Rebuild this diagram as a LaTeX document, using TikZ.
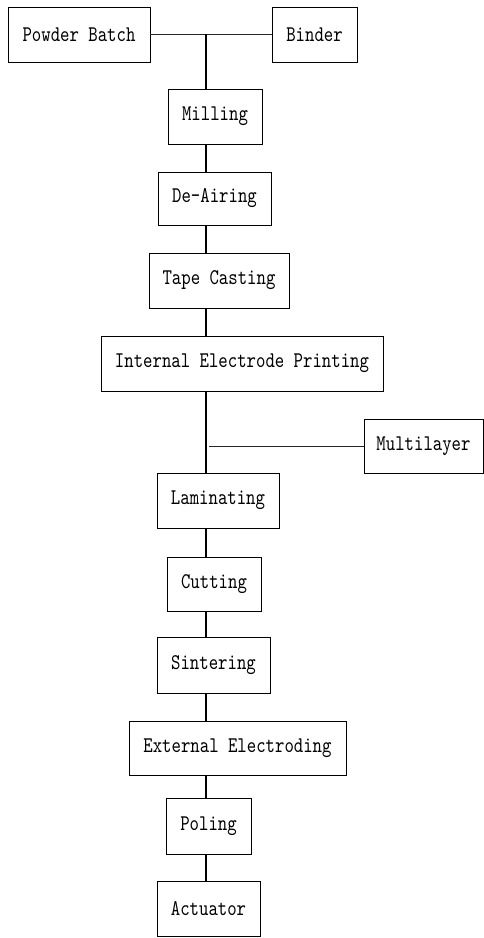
\documentclass[tikz,border=0pt]{standalone}
\usepackage{fontspec}
\newfontfamily\flowfont{lmmono10-regular.otf}[FakeStretch=0.8]
\usepackage{tikz}

\begin{document}
\begin{tikzpicture}[x=1pt, y=-1pt]
\tikzstyle{every node}=[font=\flowfont\fontsize{22.4}{26}\selectfont]
\tikzstyle{proc}=[draw, line width=0.8pt, inner sep=0pt, minimum height=55pt]
\tikzstyle{trunk}=[line width=1.3pt]
\tikzstyle{feed}=[line width=0.7pt, black!85]

\useasboundingbox (0,0) rectangle (484,938);

\node[proc, minimum width=142pt] at (79,34.5) (pb) {Powder Batch};
\node[proc, minimum width=85pt] at (314.5,34.5) (binder) {Binder};
\node[proc, minimum width=94pt] at (215,116.5) (mill) {Milling};
\node[proc, minimum width=113pt, minimum height=53pt] at (214.5,198.5) (deair) {De-Airing};
\node[proc, minimum width=140pt] at (219,280.5) (tape) {Tape Casting};
\node[proc, minimum width=282pt] at (242,363.5) (iep) {Internal Electrode Printing};
\node[proc, minimum width=119pt, minimum height=54pt] at (423.5,446) (multi) {Multilayer};
\node[proc, minimum width=122pt] at (218,500.5) (lam) {Laminating};
\node[proc, minimum width=94pt, minimum height=54pt] at (214,584) (cut) {Cutting};
\node[proc, minimum width=113pt, minimum height=56pt] at (213.5,665) (sint) {Sintering};
\node[proc, minimum width=217pt, minimum height=54pt] at (237.5,748) (extel) {External Electroding};
\node[proc, minimum width=85pt, minimum height=56pt] at (208.5,826) (pol) {Poling};
\node[proc, minimum width=103pt] at (208.5,908.5) (act) {Actuator};

\coordinate (mix) at (206,34);
\coordinate (stack) at (206,446);

\draw[feed] (pb) -- (binder);
\draw[trunk] (mix) -- (mill.north -| mix);
\draw[trunk] (mill.south -| mix) -- (deair.north -| mix);
\draw[trunk] (deair.south -| mix) -- (tape.north -| mix);
\draw[trunk] (tape.south -| mix) -- (iep.north -| mix);
\draw[trunk] (iep.south -| mix) -- (lam.north -| mix);
\draw[feed] ([xshift=3pt]stack) -- (multi.west);
\draw[trunk] (lam.south -| mix) -- (cut.north -| mix);
\draw[trunk] (cut.south -| mix) -- (sint.north -| mix);
\draw[trunk] (sint.south -| mix) -- (extel.north -| mix);
\draw[trunk] (extel.south -| mix) -- (pol.north -| mix);
\draw[trunk] (pol.south -| mix) -- (act.north -| mix);
\end{tikzpicture}
\end{document}
